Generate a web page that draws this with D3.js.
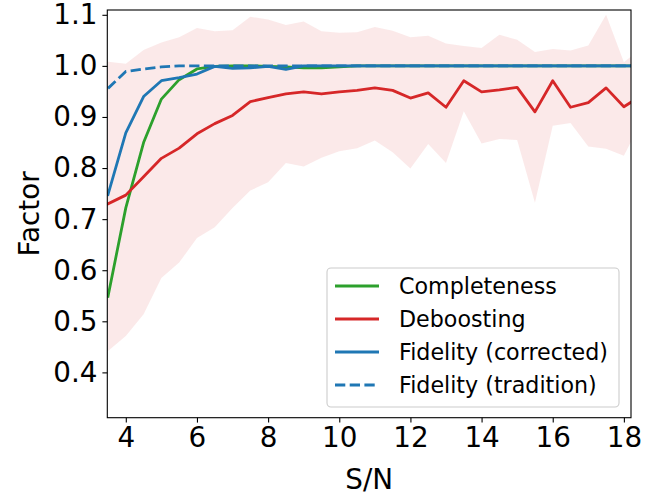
<!DOCTYPE html>
<html><head><meta charset="utf-8">
<script src="https://cdn.jsdelivr.net/npm/d3@7"></script>
<style>
body{margin:0;background:#fff;}
text{font-family:"DejaVu Sans",sans-serif;fill:#000;}
</style></head>
<body>
<svg id="chart" width="665" height="495"></svg>
<script>
const sn = [3.5,4,4.5,5,5.5,6,6.5,7,7.5,8,8.5,9,9.5,10,10.5,11,11.5,12,12.5,13,13.5,14,14.5,15,15.5,16,16.5,17,17.5,18,18.5];
const completeness = [0.549,0.722,0.850,0.935,0.973,0.994,0.999,1.0,1.0,0.999,0.998,0.996,0.996,0.998,1,1,1,1,1,1,1,1,1,1,1,1,1,1,1,1,1];
const deboosting = [0.730,0.747,0.783,0.819,0.839,0.867,0.887,0.903,0.930,0.938,0.945,0.949,0.945,0.949,0.952,0.957,0.952,0.937,0.947,0.919,0.971,0.949,0.953,0.958,0.910,0.971,0.919,0.928,0.957,0.920,0.942];
const deboostUpper = [1.008,1.004,1.031,1.046,1.056,1.074,1.068,1.070,1.096,1.091,1.080,1.087,1.068,1.065,1.066,1.076,1.069,1.056,1.059,1.044,1.039,1.035,1.061,1.051,1.027,1.033,1.030,1.040,1.100,1.007,1.036];
const deboostLower = [0.442,0.471,0.514,0.585,0.615,0.663,0.684,0.722,0.756,0.772,0.810,0.803,0.820,0.833,0.839,0.854,0.831,0.799,0.847,0.810,0.911,0.848,0.857,0.855,0.732,0.883,0.888,0.842,0.838,0.824,0.893];
const fidelityCorrected = [0.748,0.869,0.940,0.971,0.977,0.984,0.999,0.995,0.996,0.999,0.993,1,1,1,1,1,1,1,1,1,1,1,1,1,1,1,1,1,1,1,1];
const fidelityTradition = [0.956,0.989,0.994,0.998,1,1,1,1,1,1,1,1,1,1,1,1,1,1,1,1,1,1,1,1,1,1,1,1,1,1,1];
const xTicks = [4,6,8,10,12,14,16,18];
const yTicks = [0.4,0.5,0.6,0.7,0.8,0.9,1.0,1.1];
const seriesNames = ["Completeness","Deboosting","Fidelity (corrected)","Fidelity (tradition)"];
const colors = {green:"#2ca02c", red:"#d62728", blue:"#1f77b4"};

const svg = d3.select("#chart");
const L=107.3, R=631, T=10, B=417.7;
const x = d3.scaleLinear().domain([3.48,18.2]).range([L,R]);
const y = d3.scaleLinear().domain([0.3113,1.1094]).range([B,T]);
const bigFont = 27.8, legendFont = 22.2;

svg.append("defs").append("clipPath").attr("id","clip")
  .append("rect").attr("x",L).attr("y",T).attr("width",R-L).attr("height",B-T);
const plot = svg.append("g").attr("clip-path","url(#clip)");

const idx = d3.range(sn.length);
plot.append("path").datum(idx)
  .attr("d", d3.area().x(i=>x(sn[i])).y0(i=>y(deboostLower[i])).y1(i=>y(deboostUpper[i])))
  .attr("fill", colors.red).attr("fill-opacity",0.1);

const line = arr => d3.line().x(i=>x(sn[i])).y(i=>y(arr[i]));
function drawLine(arr, color, dash){
  const p = plot.append("path").datum(idx).attr("d", line(arr))
    .attr("fill","none").attr("stroke",color).attr("stroke-width",2.8)
    .attr("stroke-linejoin","round").attr("stroke-linecap", dash ? "butt" : "square");
  if(dash) p.attr("stroke-dasharray", dash);
}
drawLine(completeness, colors.green);
drawLine(deboosting, colors.red);
drawLine(fidelityCorrected, colors.blue);
drawLine(fidelityTradition, colors.blue, "10.3,4.4");

// axes
const xAxis = d3.axisBottom(x).tickValues(xTicks).tickSize(4.9).tickPadding(4.9).tickFormat(d3.format("d"));
const yAxis = d3.axisLeft(y).tickValues(yTicks).tickSize(4.9).tickPadding(4.9).tickFormat(d3.format(".1f"));
const gx = svg.append("g").attr("transform",`translate(0,${B})`).call(xAxis);
const gy = svg.append("g").attr("transform",`translate(${L},0)`).call(yAxis);
[gx,gy].forEach(g=>{
  g.select(".domain").remove();
  g.selectAll(".tick line").attr("stroke","#000").attr("stroke-width",1.1);
  g.selectAll(".tick text").attr("font-size",bigFont).attr("font-family","DejaVu Sans").attr("fill","#000");
});
svg.append("rect").attr("x",L).attr("y",T).attr("width",R-L).attr("height",B-T)
  .attr("fill","none").attr("stroke","#000").attr("stroke-width",1.1);

svg.append("text").attr("x",(L+R)/2).attr("y",489).attr("text-anchor","middle")
  .attr("font-size",bigFont).text("S/N");
svg.append("text").attr("transform",`translate(39,${(T+B)/2}) rotate(-90)`).attr("text-anchor","middle")
  .attr("font-size",bigFont).text("Factor");

// legend
const lg = svg.append("g");
lg.append("rect").attr("x",327).attr("y",268).attr("width",292).attr("height",139).attr("rx",4)
  .attr("fill","#fff").attr("fill-opacity",0.8).attr("stroke","#cccccc").attr("stroke-width",1.1);
const legendItems = [
  {name:seriesNames[0], color:colors.green},
  {name:seriesNames[1], color:colors.red},
  {name:seriesNames[2], color:colors.blue},
  {name:seriesNames[3], color:colors.blue, dash:"10.3,4.4"}
];
legendItems.forEach((d,i)=>{
  const cy = 286 + i*33;
  const ln = lg.append("line").attr("x1",335).attr("x2",379).attr("y1",cy).attr("y2",cy)
    .attr("stroke",d.color).attr("stroke-width",2.8);
  if(d.dash) ln.attr("stroke-dasharray",d.dash);
  lg.append("text").attr("x",399).attr("y",cy).attr("dy","0.36em").attr("font-size",legendFont).text(d.name);
});
</script>
</body></html>
